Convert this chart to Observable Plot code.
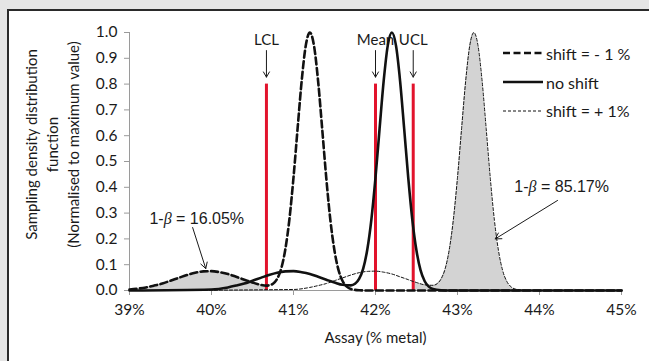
<!DOCTYPE html>
<html>
<head>
<meta charset="utf-8">
<script src="https://cdn.jsdelivr.net/npm/d3@7"></script>
<script src="https://cdn.jsdelivr.net/npm/@observablehq/plot@0.6"></script>
<style>
  html, body { margin: 0; padding: 0; }
  body { width: 649px; height: 361px; background: #e5e5e5; position: relative; overflow: hidden; font-family: Lato, "Open Sans", sans-serif; }
  #panel { position: absolute; left: 7px; top: 9px; right: 0; bottom: 0; background: #fff; border-top: 2px solid #2a2a2a; border-left: 2px solid #2a2a2a; }
  #chart { position: absolute; left: 0; top: 0; }
  #legend { position: absolute; left: 503px; top: 39px; font-size: 16px; color: #1a1a1a; }
  #legend .row { display: flex; align-items: center; height: 28.7px; white-space: nowrap; }
  #legend svg { margin-right: 3px; }
</style>
</head>
<body>
<div id="panel"></div>
<div id="chart"></div>
<div id="legend"></div>
<script>
// ---- data ----
const xTicks = [39, 40, 41, 42, 43, 44, 45];
const yTicks = [0, 0.1, 0.2, 0.3, 0.4, 0.5, 0.6, 0.7, 0.8, 0.9, 1.0];

// shift = -1 %
const minusX = [39.0,39.2,39.3,39.4,39.5,39.6,39.7,39.8,39.9,40.0,40.1,40.2,40.3,40.4,40.5,40.6,40.67,40.7,40.75,40.8,40.85,40.9,40.95,41.0,41.05,41.1,41.15,41.2,41.25,41.3,41.35,41.4,41.45,41.5,41.55,41.6,41.65,41.7,41.8,41.9,45.0];
const minusY = [0.004,0.012,0.019,0.027,0.038,0.049,0.060,0.069,0.074,0.075,0.071,0.064,0.053,0.042,0.031,0.022,0.019,0.020,0.026,0.045,0.085,0.159,0.276,0.438,0.628,0.813,0.950,1.000,0.949,0.812,0.626,0.435,0.272,0.154,0.078,0.036,0.015,0.006,0.001,0,0];

// no shift
const noneX = [39.0,40.0,40.2,40.3,40.4,40.5,40.6,40.7,40.8,40.9,41.0,41.1,41.2,41.3,41.4,41.5,41.6,41.7,41.75,41.8,41.85,41.9,41.95,42.0,42.05,42.1,42.15,42.2,42.25,42.3,42.35,42.4,42.45,42.5,42.55,42.6,42.65,42.7,42.8,42.9,45.0];
const noneY = [0,0.004,0.012,0.019,0.027,0.038,0.049,0.060,0.069,0.074,0.075,0.071,0.064,0.053,0.042,0.031,0.022,0.020,0.026,0.045,0.085,0.159,0.276,0.438,0.628,0.813,0.950,1.000,0.949,0.812,0.626,0.435,0.272,0.154,0.078,0.036,0.015,0.006,0.001,0,0];

// shift = + 1%
const plusX = [39.0,41.0,41.2,41.3,41.4,41.5,41.6,41.7,41.8,41.9,42.0,42.1,42.2,42.3,42.4,42.46,42.5,42.6,42.7,42.75,42.8,42.85,42.9,42.95,43.0,43.05,43.1,43.15,43.2,43.25,43.3,43.35,43.4,43.45,43.5,43.55,43.6,43.65,43.7,43.8,43.9,45.0];
const plusY = [0,0.004,0.012,0.019,0.027,0.038,0.049,0.060,0.069,0.074,0.075,0.071,0.064,0.053,0.042,0.035,0.031,0.022,0.020,0.026,0.045,0.085,0.159,0.276,0.438,0.628,0.813,0.950,1.000,0.949,0.812,0.626,0.435,0.272,0.154,0.078,0.036,0.015,0.006,0.001,0,0];

const seriesNames = ["shift = - 1 %", "no shift", "shift = + 1%"];

// control limits
const controlNames = ["LCL", "Mean", "UCL"];
const controlX = [40.67, 42.0, 42.46];
const controlTop = 0.8;
const controlArrowFrom = 0.93;
const controlArrowTo = 0.827;
const controlLabelY = 0.969;

// annotations
const annText = ["1-β = 16.05%", "1-β = 85.17%"];
const annTextX = [39.82, 44.27];
const annTextY = [0.279, 0.40];
const annFromX = [39.77, 44.22];
const annFromY = [0.244, 0.349];
const annToX = [39.93, 43.46];
const annToY = [0.085, 0.20];

// ---- build tables ----
const toRows = (xs, ys) => xs.map((x, i) => ({x, y: ys[i]}));
const minus = toRows(minusX, minusY);
const none = toRows(noneX, noneY);
const plus = toRows(plusX, plusY);
const LCL = controlX[0], UCL = controlX[2];
const controls = controlNames.map((n, i) => ({name: n, x: controlX[i]}));
const anns = annText.map((t, i) => ({t, tx: annTextX[i], ty: annTextY[i], x1: annFromX[i], y1: annFromY[i], x2: annToX[i], y2: annToY[i]}));

const styles = [
  {strokeWidth: 2.6, dash: "7,3.5"},
  {strokeWidth: 2.6, dash: null},
  {strokeWidth: 1, dash: "3,2"}
];
const curve = "monotone-x";
const red = "#e2132c";
const axisGrey = "#9a9a9a";

const chart = Plot.plot({
  width: 649,
  height: 361,
  marginLeft: 129,
  marginRight: 28,
  marginTop: 32,
  marginBottom: 71,
  x: {domain: [39, 45]},
  y: {domain: [0, 1]},
  style: {background: "transparent", fontFamily: "Lato, 'Open Sans', sans-serif", fontSize: "15px", color: "#1a1a1a"},
  marks: [
    Plot.areaY(minus.filter(d => d.x <= LCL), {x: "x", y: "y", fill: "#d3d3d3", curve}),
    Plot.areaY(plus.filter(d => d.x >= UCL), {x: "x", y: "y", fill: "#d3d3d3", curve}),
    Plot.ruleX([39], {stroke: axisGrey, strokeWidth: 1}),
    Plot.ruleY([0], {stroke: axisGrey, strokeWidth: 1}),
    Plot.axisX({ticks: xTicks, tickFormat: d => d + "%", tickSize: 5, tickPadding: 8, stroke: axisGrey, fill: "#1a1a1a", label: null, fontSize: 15.5}),
    Plot.axisY({ticks: yTicks, tickFormat: d3.format(".1f"), tickSize: 5, tickPadding: 7, stroke: axisGrey, fill: "#1a1a1a", label: null, fontSize: 15.5}),
    Plot.text(["Sampling density distribution\nfunction\n(Normalised to maximum value)"], {frameAnchor: "left", dx: -78, dy: -17, rotate: -90, lineHeight: 1.4, fontSize: 15, textAnchor: "middle", lineAnchor: "middle"}),
    Plot.text(["Assay (% metal)"], {frameAnchor: "bottom", dy: 48, fontSize: 15, lineAnchor: "middle"}),
    Plot.ruleX(controls, {x: "x", y1: 0, y2: controlTop, stroke: red, strokeWidth: 3}),
    Plot.text(controls, {x: "x", y: controlLabelY, text: "name", fontSize: 15}),
    Plot.arrow(controls, {x1: "x", x2: "x", y1: controlArrowFrom, y2: controlArrowTo, stroke: "#1a1a1a", strokeWidth: 1, headLength: 9}),
    Plot.text(anns, {x: "tx", y: "ty", text: "t", fontSize: 16, fontFamily: "'Liberation Sans', Arial, sans-serif"}),
    Plot.arrow(anns, {x1: "x1", y1: "y1", x2: "x2", y2: "y2", stroke: "#1a1a1a", strokeWidth: 1, headLength: 10}),
    Plot.line(plus, {x: "x", y: "y", stroke: "#111", strokeWidth: styles[2].strokeWidth, strokeDasharray: styles[2].dash, curve}),
    Plot.line(none, {x: "x", y: "y", stroke: "#111", strokeWidth: styles[1].strokeWidth, curve}),
    Plot.line(minus, {x: "x", y: "y", stroke: "#111", strokeWidth: styles[0].strokeWidth, strokeDasharray: styles[0].dash, curve})
  ]
});
document.getElementById("chart").appendChild(chart);

// italic beta
chart.querySelectorAll("text").forEach(t => {
  if (t.children.length === 0 && t.textContent.includes("β")) {
    const parts = t.textContent.split("β");
    t.textContent = "";
    parts.forEach((p, i) => {
      t.appendChild(document.createTextNode(p));
      if (i < parts.length - 1) {
        const ts = document.createElementNS("http://www.w3.org/2000/svg", "tspan");
        ts.setAttribute("font-style", "italic");
        ts.setAttribute("font-family", "'Liberation Serif', serif");
        ts.textContent = "β";
        t.appendChild(ts);
      }
    });
  }
});

// legend (inside the plot area, top right)
const legend = document.getElementById("legend");
seriesNames.forEach((name, i) => {
  const row = document.createElement("div");
  row.className = "row";
  const s = styles[i];
  row.innerHTML = `<svg width="40" height="10"><line x1="0" x2="40" y1="5" y2="5" stroke="#111" stroke-width="${s.strokeWidth}" ${s.dash ? `stroke-dasharray="${s.dash}"` : ""}/></svg><span>${name}</span>`;
  legend.appendChild(row);
});
</script>
</body>
</html>
